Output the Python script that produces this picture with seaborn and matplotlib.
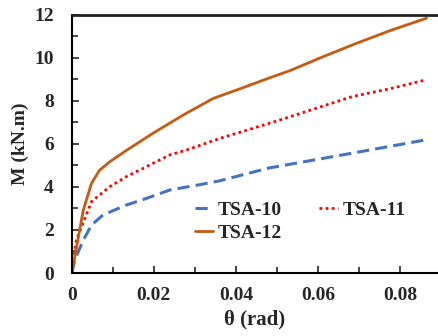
import matplotlib.pyplot as plt
import seaborn as sns
import pandas as pd
from matplotlib.ticker import MultipleLocator

# rotation (rad) and moment (kN.m)
theta_10 = [0, 0.0007, 0.0028, 0.0048, 0.0076, 0.0133, 0.0182, 0.0239, 0.031, 0.0359, 0.048, 0.0683, 0.0863]
m_10 = [0, 0.6, 1.53, 2.23, 2.7, 3.16, 3.47, 3.86, 4.1, 4.28, 4.88, 5.57, 6.19]

theta_11 = [0, 0.0011, 0.0048, 0.0093, 0.0133, 0.0174, 0.0239, 0.028, 0.0361, 0.0454, 0.052, 0.0683, 0.0776, 0.0857]
m_11 = [0, 1.53, 3.32, 4.02, 4.48, 4.87, 5.49, 5.72, 6.26, 6.8, 7.19, 8.2, 8.57, 8.95]

theta_12 = [0, 0.0028, 0.0048, 0.0068, 0.0093, 0.0133, 0.0198, 0.0272, 0.0345, 0.0402,
            0.0483, 0.0532, 0.0613, 0.0694, 0.0776, 0.0865]
m_12 = [0, 2.93, 4.17, 4.79, 5.18, 5.7, 6.5, 7.35, 8.12, 8.51,
        9.08, 9.41, 10.06, 10.68, 11.27, 11.85]

labels = ['TSA-10', 'TSA-11', 'TSA-12']

df = pd.concat([
    pd.DataFrame({'theta': theta_10, 'M': m_10, 'specimen': labels[0]}),
    pd.DataFrame({'theta': theta_11, 'M': m_11, 'specimen': labels[1]}),
    pd.DataFrame({'theta': theta_12, 'M': m_12, 'specimen': labels[2]}),
])

sns.set_style('white')
plt.rcParams['font.family'] = ['Liberation Serif', 'DejaVu Serif']
plt.rcParams['font.weight'] = 'bold'

fig = plt.figure(figsize=(4.38, 3.36), dpi=100)
ax = fig.add_axes([0.164, 0.1875, 0.836, 0.768])

colors = {'TSA-10': '#4472C4', 'TSA-11': '#FF0000', 'TSA-12': '#C55A11'}
styles = {'TSA-10': (0, (4, 2)), 'TSA-11': (0, (1, 1.2)), 'TSA-12': '-'}
widths = {'TSA-10': 2.2, 'TSA-11': 2.0, 'TSA-12': 2.0}

for name in labels:
    sub = df[df['specimen'] == name]
    sns.lineplot(data=sub, x='theta', y='M', ax=ax, color=colors[name],
                 linestyle=styles[name], linewidth=widths[name], label=name,
                 sort=False, estimator=None)

ax.set_xlim(0, 0.0893)
ax.set_ylim(0, 12)
ax.xaxis.set_major_locator(MultipleLocator(0.02))
ax.xaxis.set_minor_locator(MultipleLocator(0.01))
ax.yaxis.set_major_locator(MultipleLocator(2))
ax.yaxis.set_minor_locator(MultipleLocator(1))
ax.set_xticklabels(['0' if t == 0 else f'{t:.2f}' for t in ax.get_xticks()])

ax.tick_params(which='both', direction='in', labelsize=14, width=1.2)
ax.tick_params(which='major', length=5)
ax.tick_params(which='minor', length=4)
ax.tick_params(axis='y', which='both', left=True, pad=13)
ax.tick_params(axis='x', which='both', bottom=True, pad=10)

ax.spines['right'].set_visible(False)
for s in ['left', 'bottom']:
    ax.spines[s].set_color('black')
    ax.spines[s].set_linewidth(1.5)
ax.spines['top'].set_color('#222222')
ax.spines['top'].set_linewidth(2)

ax.set_xlabel('θ (rad)', fontsize=15, fontweight='bold', labelpad=4)
ax.set_ylabel('M (kN.m)', fontsize=14, fontweight='bold', labelpad=4)

handles, lbls = ax.get_legend_handles_labels()
order = [0, 2, 1]
ax.legend([handles[i] for i in order], [lbls[i] for i in order], ncol=2,
          loc='upper left', bbox_to_anchor=(0.309, 0.317), frameon=False,
          borderpad=0, handlelength=0.95, handletextpad=0.25, columnspacing=1.9,
          labelspacing=0.3, prop={'weight': 'bold', 'size': 14})

fig.savefig('out.png', dpi=100)
